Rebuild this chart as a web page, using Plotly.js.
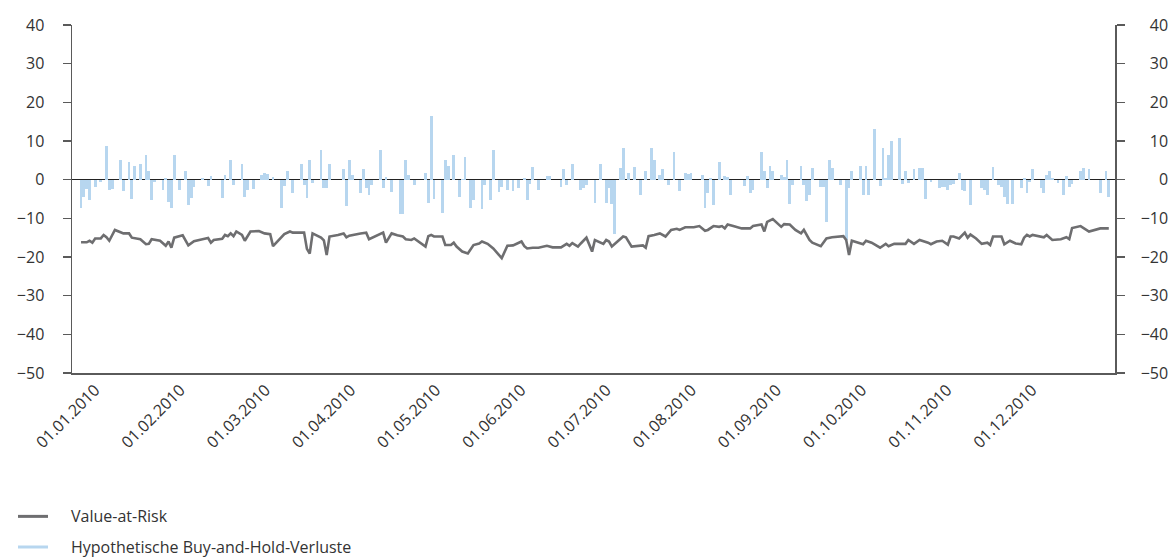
<!DOCTYPE html>
<html><head><meta charset="utf-8">
<script src="https://cdn.plot.ly/plotly-3.0.1.min.js"></script>
<style>html,body{margin:0;padding:0;background:#fff}#chart{width:1172px;height:558px}</style>
</head><body><div id="chart"></div>
<script>
// Hypothetische Buy-and-Hold-Verluste (position index along the year, value)
const barDay = [0,1,2,3,5,7,9,10,11,14,15,17,18,19,21,23,24,25,26,29,30,31,32,33,35,37,38,39,40,
43,45,46,50,51,53,54,57,58,59,61,64,65,66,68,71,72,73,75,78,79,80,81,82,
85,86,87,88,93,94,95,96,99,100,101,102,103,106,107,108,110,113,114,115,116,118,122,123,124,125,128,129,130,132,
134,135,136,138,139,142,143,145,146,148,149,151,153,155,157,158,159,160,162,165,166,170,171,172,174,177,178,179,
182,184,186,187,188,189,191,192,194,196,198,200,202,203,205,206,208,210,212,214,215,216,220,221,222,223,224,226,
228,229,230,235,236,237,238,241,242,243,244,245,248,249,250,251,252,255,256,257,258,259,262,263,264,265,266,269,271,
272,273,276,277,278,279,281,283,284,285,286,287,290,291,292,293,295,297,298,299,301,304,305,306,307,308,309,311,312,313,315,
319,320,321,323,325,326,327,328,330,333,334,335,336,337,340,341,342,343,344,346,348,349,350,351,354,355,357,361,363,364];
const barLoss = [-7.2,-4.5,-2.5,-5.3,-1.8,-0.5,8.8,-2.8,-2.5,5.0,-3.0,4.6,-5.0,3.6,4.0,6.4,2.3,-5.2,-0.7,-2.7,0.4,-5.7,-7.2,6.4,-2.7,2.2,-6.6,-4.8,-1.8,
0.4,-1.6,0.9,-4.8,1.2,5.0,-1.3,4.0,-4.4,-2.7,-2.5,1.1,1.7,1.5,0.6,-7.2,-1.6,2.2,-3.5,4.0,-1.4,-4.8,5.0,-0.8,
7.7,-2.2,-2.2,4.0,2.7,-6.7,5.0,1.2,-3.5,2.7,-2.2,-4.0,-1.4,7.7,-2.2,0.8,-3.1,-9.0,-9.0,5.0,1.2,-1.4,1.8,-6.0,16.5,-5.0,-8.5,5.0,3.5,6.4,
-4.4,0.3,5.8,-7.2,-5.3,-7.7,-1.4,-5.3,7.7,-3.1,-2.0,-2.7,-3.0,-2.2,0.4,-5.3,-1.0,3.2,-2.7,0.9,0.9,-1.8,2.7,-1.4,4.0,-2.7,-2.2,-1.4,
-6.0,4.0,-6.0,-2.2,-6.3,-14.0,3.0,8.2,1.8,3.2,-4.0,2.2,8.2,5.0,1.2,2.7,-1.3,7.2,-3.0,1.8,1.5,1.8,1.2,-7.2,-3.5,0.4,-6.6,4.6,
1.0,0.6,-4.0,-1.6,1.0,-3.5,-2.7,7.2,2.3,-2.2,3.6,2.3,1.2,0.6,5.0,-6.4,-1.3,3.6,-1.4,-5.4,-4.0,3.1,-1.8,-1.8,-10.9,5.0,3.1,-1.4,-15.6,
-2.2,2.2,3.5,-4.0,3.5,-4.0,13.1,-1.6,8.2,0.4,6.4,10.0,10.9,-1.1,2.2,-0.8,2.7,3.1,3.1,-5.0,-0.7,-2.2,-2.0,-1.8,-2.7,-1.4,-1.0,1.8,-2.7,-3.0,-6.6,
-2.2,-2.8,-4.0,3.2,-1.4,-2.0,-4.4,-6.4,-6.4,-2.2,0.4,-3.5,-0.5,2.7,-2.2,-3.5,1.2,2.2,0.4,-0.8,-4.0,0.9,-1.8,-1.0,2.2,3.1,2.7,-3.5,2.2,-4.4];

// Value-at-Risk
const varDay = [0,2,3,4,5,7,8,9,10,12,14,15,17,18,21,23,24,25,28,30,31,32,33,36,38,40,
43,45,46,47,50,51,52,53,54,55,57,58,60,63,65,67,68,70,72,74,75,79,80,81,82,
85,86,87,88,91,93,94,95,99,101,102,105,107,108,110,112,114,115,117,118,120,122,123,124,125,128,129,131,132,
133,135,137,139,141,142,144,146,149,151,153,156,157,158,160,162,165,167,170,172,173,174,176,177,179,181,182,
185,186,187,188,192,193,195,197,199,200,201,203,205,207,209,211,212,214,217,219,221,222,224,226,
227,228,229,231,234,237,238,241,242,243,245,248,249,251,253,255,256,258,259,262,264,266,270,271,272,
273,275,277,278,280,283,285,286,288,292,293,295,297,300,301,303,305,307,308,309,311,313,314,315,317,
319,321,322,323,326,327,329,331,333,334,335,336,337,341,342,344,347,349,350,351,354,357,361,364];
const varValue = [-16.2,-16.2,-15.8,-16.3,-15.2,-15.2,-14.3,-14.9,-15.8,-13.0,-13.6,-13.9,-13.9,-15.0,-15.4,-16.7,-16.6,-15.4,-15.8,-17.1,-16.0,-17.6,-15.0,-14.4,-17.0,-15.9,
-15.4,-15.1,-16.3,-15.6,-15.3,-14.3,-14.6,-13.9,-14.6,-13.4,-14.3,-15.8,-13.4,-13.3,-13.9,-14.1,-17.2,-15.6,-14.1,-13.4,-13.7,-13.7,-17.9,-19.1,-13.9,
-15.0,-15.7,-19.5,-14.7,-14.3,-13.9,-14.9,-14.5,-13.9,-13.7,-15.4,-14.3,-13.7,-16.3,-13.9,-14.4,-14.7,-15.4,-15.6,-15.2,-16.3,-17.3,-14.6,-14.3,-14.7,-14.7,-16.9,-16.9,-16.3,
-17.3,-18.6,-19.1,-16.9,-16.5,-16.0,-16.6,-17.8,-20.3,-17.1,-17.0,-16.0,-17.2,-17.8,-17.6,-17.6,-17.1,-17.5,-17.5,-16.6,-17.1,-16.4,-17.3,-16.5,-15.0,-18.6,-15.6,
-16.6,-15.6,-16.0,-17.3,-14.7,-14.9,-17.3,-17.2,-17.0,-17.6,-14.6,-14.3,-13.9,-14.7,-13.0,-12.7,-13.0,-12.3,-12.3,-12.0,-13.2,-13.0,-12.0,-12.2,
-12.0,-12.6,-11.6,-12.0,-12.6,-12.6,-12.0,-11.6,-13.4,-10.9,-10.2,-12.2,-11.5,-11.6,-13.0,-13.9,-13.0,-15.6,-16.3,-17.2,-15.2,-14.9,-14.6,-15.6,-19.5,
-15.8,-16.3,-16.7,-15.8,-16.3,-17.6,-16.6,-17.2,-16.6,-16.6,-15.6,-16.6,-15.6,-16.3,-16.7,-16.0,-15.8,-16.8,-14.7,-14.7,-15.2,-13.7,-15.0,-14.2,-15.2,
-16.6,-16.3,-16.9,-14.7,-14.7,-16.7,-15.8,-16.5,-16.7,-15.0,-14.3,-14.7,-14.3,-14.9,-14.3,-15.6,-15.4,-14.9,-15.4,-12.5,-12.0,-13.4,-12.6,-12.6];

const monthLabels = ['01.01.2010','01.02.2010','01.03.2010','01.04.2010','01.05.2010','01.06.2010',
  '01.07.2010','01.08.2010','01.09.2010','01.10.2010','01.11.2010','01.12.2010'];
const yTickValues = [-50,-40,-30,-20,-10,0,10,20,30,40];
const seriesNames = ['Value-at-Risk', 'Hypothetische Buy-and-Hold-Verluste'];

const FONT = 'Open Sans, Liberation Sans, sans-serif';
const TXT = '#333333';
const AX = '#5a5a5a';
const VAR_COLOR = '#6e6e70';
const BAR_COLOR = '#b7d6ef';
const fmt = v => v < 0 ? '\u2212' + Math.abs(v) : String(v);
const leftText = yTickValues.map(fmt);
const rightText = yTickValues.map(v => {
  const s = fmt(v);
  return '\u2007'.repeat(Math.max(0, 3 - s.length)) + s;
});
const firstTick = 5.0, monthStep = 30.17;
const monthTickVals = monthLabels.map((_, k) => firstTick + k * monthStep);

const traces = [
  {type:'bar', x: barDay, y: barLoss, width: 1.0, marker:{color:BAR_COLOR, line:{width:0}},
   name: seriesNames[1], showlegend:false},
  {type:'scatter', mode:'lines', x: varDay, y: varValue, line:{color:VAR_COLOR, width:2.6},
   name: seriesNames[0], showlegend:false},
  {type:'scatter', mode:'lines', x:[null], y:[null], yaxis:'y2', showlegend:false, hoverinfo:'skip'}
];

// legend drawn below the plot (paper coordinates)
const legendX0 = -0.0518, legendX1 = -0.023, legendTextX = -0.003;
const legendY = [-0.412, -0.5];
const legendColors = [VAR_COLOR, BAR_COLOR];
const shapes = legendY.map((y, i) => ({type:'line', xref:'paper', yref:'paper',
  x0: legendX0, x1: legendX1, y0: y, y1: y, line:{color: legendColors[i], width: 3}}));
const annotations = legendY.map((y, i) => ({xref:'paper', yref:'paper', x: legendTextX, y: y,
  xanchor:'left', yanchor:'middle', showarrow:false, text: seriesNames[i],
  font:{family:FONT, size:16, color:TXT}}));

const layout = {
  width:1172, height:558,
  margin:{l:72, r:57, t:25, b:185},
  paper_bgcolor:'#ffffff', plot_bgcolor:'#ffffff',
  font:{family:FONT, size:16, color:TXT},
  bargap:0,
  showlegend:false,
  shapes: shapes,
  annotations: annotations,
  xaxis:{range:[-3.2, 366.2], showgrid:false, zeroline:false, showline:true, linecolor:AX, linewidth:1.5,
    tickmode:'array', tickvals: monthTickVals, ticktext: monthLabels, tickangle:-45, ticks:'',
    tickfont:{family:FONT, size:16, color:TXT}, automargin:false},
  yaxis:{range:[-50,40], tickmode:'array', tickvals: yTickValues, ticktext: leftText,
    showgrid:false, zeroline:true, zerolinecolor:'#222222', zerolinewidth:1.5,
    showline:true, linecolor:AX, linewidth:1.5, ticks:'outside', ticklen:8, tickwidth:1.5, tickcolor:AX,
    ticklabelstandoff:15, tickfont:{family:FONT, size:16, color:TXT}, automargin:false},
  yaxis2:{range:[-50,40], overlaying:'y', side:'right', tickmode:'array', tickvals: yTickValues, ticktext: rightText,
    showgrid:false, zeroline:false, showline:true, linecolor:AX, linewidth:1.5, ticks:'outside', ticklen:8,
    tickwidth:1.5, tickcolor:AX, ticklabelstandoff:13, tickfont:{family:FONT, size:16, color:TXT}, automargin:false}
};

Plotly.newPlot('chart', traces, layout, {staticPlot:true, displayModeBar:false});
</script>
</body></html>
